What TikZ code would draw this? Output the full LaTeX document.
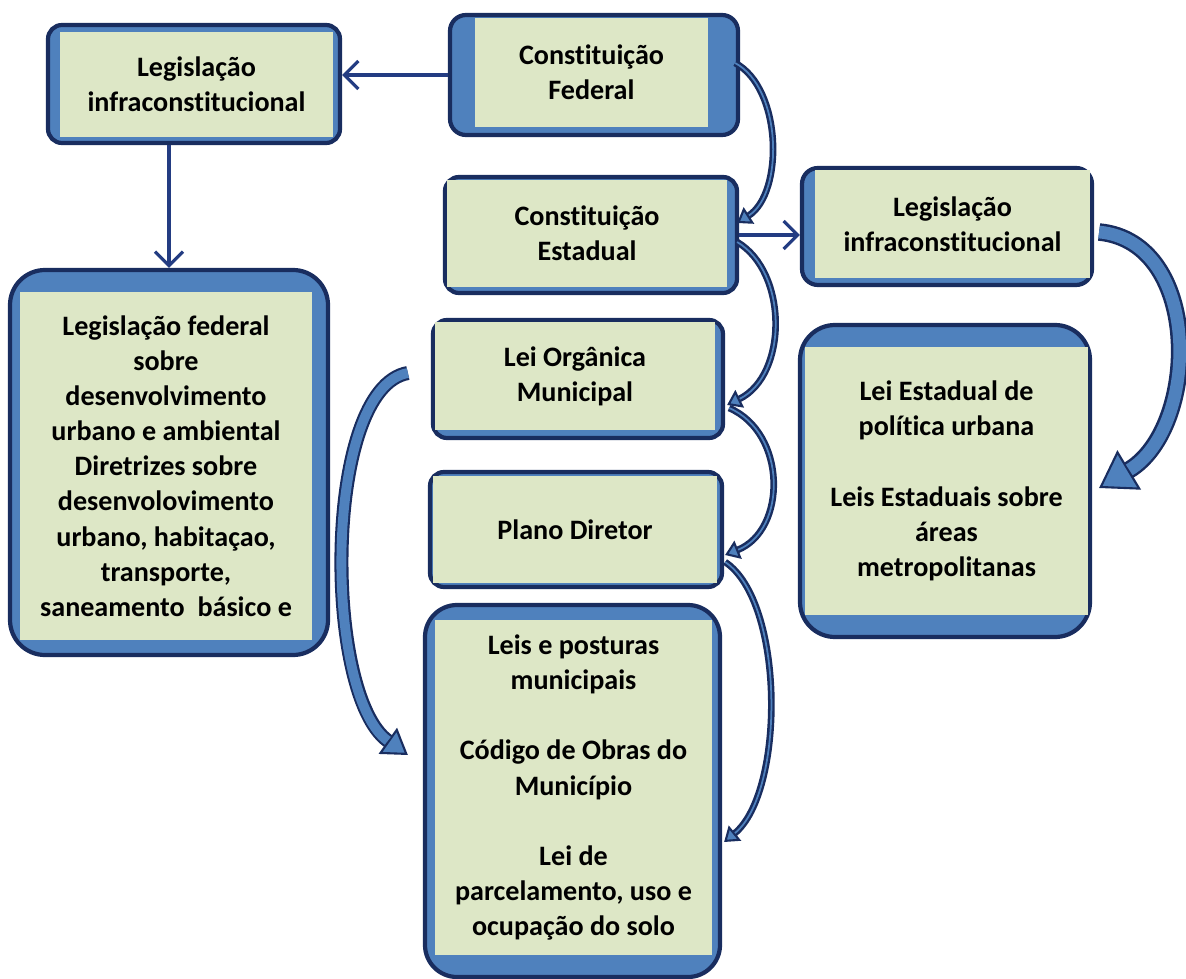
\documentclass[tikz,border=0pt]{standalone}
\usepackage{fontspec}
\setmainfont{Carlito}[Ligatures=NoCommon]
\usetikzlibrary{arrows.meta}
\definecolor{boxline}{RGB}{25,45,95}
\definecolor{boxblue}{RGB}{79,129,189}
\definecolor{boxgreen}{RGB}{221,231,198}
\definecolor{arrblue}{RGB}{35,60,130}
\begin{document}
\begin{tikzpicture}[>={Straight Barb[length=4pt,width=8pt]},
  outerbox/.style={draw=boxline, line width=1.2pt, fill=boxblue, inner sep=0pt},
  innerbox/.style={fill=boxgreen, inner sep=0pt, align=center, text=black,
    font=\fontsize{8}{10}\selectfont\bfseries},
  arr/.style={draw=arrblue, line width=0.9pt, ->},
  band/.style n args={4}{draw=boxline, line width=#1,
    -{Triangle[length=#3,width=#4,fill=boxblue,line width=0.6pt]},
    postaction={draw=boxblue, line width=#2, -, shorten >=#3}}]
\useasboundingbox (0,0) rectangle (11.86,-9.79);

% blue frames
\node[outerbox, minimum width=2.92cm, minimum height=1.18cm, rounded corners=0.14cm] (legA) at (1.94,-0.84) {};
\node[outerbox, minimum width=2.88cm, minimum height=1.20cm, rounded corners=0.16cm] (cf) at (5.94,-0.75) {};
\node[outerbox, minimum width=2.92cm, minimum height=1.16cm, rounded corners=0.14cm] (ce) at (5.91,-2.35) {};
\node[outerbox, minimum width=2.90cm, minimum height=1.17cm, rounded corners=0.16cm] (legB) at (9.47,-2.265) {};
\node[outerbox, minimum width=2.90cm, minimum height=3.12cm, rounded corners=0.35cm] (leiEst) at (9.45,-4.81) {};
\node[outerbox, minimum width=3.18cm, minimum height=3.85cm, rounded corners=0.35cm] (legF) at (1.69,-4.625) {};
\node[outerbox, minimum width=2.90cm, minimum height=1.18cm, rounded corners=0.14cm] (lom) at (5.78,-3.79) {};
\node[outerbox, minimum width=2.92cm, minimum height=1.15cm, rounded corners=0.14cm] (plano) at (5.76,-5.295) {};
\node[outerbox, minimum width=2.95cm, minimum height=3.72cm, rounded corners=0.32cm] (leisMun) at (5.725,-7.91) {};

% green faces with the texts
\node[innerbox, minimum width=2.73cm, minimum height=1.05cm] (legAt) at (1.965,-0.845) {Legislação\\infraconstitucional};
\node[innerbox, minimum width=2.33cm, minimum height=1.09cm] (cft) at (5.915,-0.725) {Constituição\\Federal};
\node[innerbox, minimum width=2.80cm, minimum height=1.07cm] (cet) at (5.87,-2.335) {Constituição\\Estadual};
\node[innerbox, minimum width=2.75cm, minimum height=1.08cm] (legBt) at (9.525,-2.24) {Legislação\\infraconstitucional};
\node[innerbox, minimum width=2.83cm, minimum height=2.68cm] (leiEstt) at (9.465,-4.81) {Lei Estadual de\\política urbana\\[10pt]Leis Estaduais sobre\\áreas\\metropolitanas};
\node[innerbox, minimum width=2.92cm, minimum height=3.48cm] (legFt) at (1.66,-4.66) {Legislação federal\\sobre\\desenvolvimento\\urbano e ambiental\\Diretrizes sobre\\desenvolovimento\\urbano, habitaçao,\\transporte,\\saneamento \ básico e};
\node[innerbox, minimum width=2.80cm, minimum height=1.08cm] (lomt) at (5.75,-3.76) {Lei Orgânica\\Municipal};
\node[innerbox, minimum width=2.84cm, minimum height=1.07cm] (planot) at (5.75,-5.295) {Plano Diretor};
\node[innerbox, minimum width=2.77cm, minimum height=3.35cm] (leisMunt) at (5.735,-7.875) {Leis e posturas\\municipais\\[10pt]Código de Obras do\\Município\\[10pt]Lei de\\parcelamento, uso e\\ocupação do solo};

% straight arrows
\draw[arr] (cf.west) -- (legA.east |- cf.west);
\draw[arr] ([xshift=-0.25cm]legA.south) -- ([xshift=-0.25cm]legA.south |- legF.north);
\draw[arr] (ce.east) -- (legB.west |- ce.east);

% curved arrows
\draw[band={1.9pt}{0.5pt}{4pt}{5.5pt}] ([shift={(-0.05,0.12)}]cf.east) .. controls +(0.47,-0.25) and +(0.47,0.3) .. ([shift={(-0.02,0.12)}]ce.east);
\draw[band={1.9pt}{0.5pt}{4pt}{5.5pt}] ([shift={(-0.02,-0.07)}]ce.east) .. controls +(0.51,-0.3) and +(0.61,0.3) .. ([shift={(0.02,-0.26)}]lom.east);
\draw[band={1.9pt}{0.5pt}{4pt}{5.5pt}] ([shift={(0.04,-0.29)}]lom.east) .. controls +(0.58,-0.25) and +(0.62,0.25) .. ([shift={(0.01,-0.255)}]plano.east);
\draw[band={1.9pt}{0.5pt}{4pt}{5.5pt}] ([shift={(0.01,-0.325)}]plano.east) .. controls +(0.6,-0.4) and +(0.61,0.5) .. ([shift={(0.02,-0.51)}]leisMun.east);
\draw[band={5pt}{3.6pt}{10pt}{13pt}] ([shift={(0.05,-0.055)}]legB.east) .. controls +(1.04,-0.1) and +(1.0,0.6) .. ([shift={(0.07,-0.07)}]leiEst.east);
\draw[band={4pt}{2.8pt}{7pt}{9pt}] ([shift={(-0.23,0.06)}]lom.west) .. controls +(-0.85,-0.15) and +(-0.85,0.6) .. ([shift={(-0.15,0.36)}]leisMun.west);
\end{tikzpicture}
\end{document}
